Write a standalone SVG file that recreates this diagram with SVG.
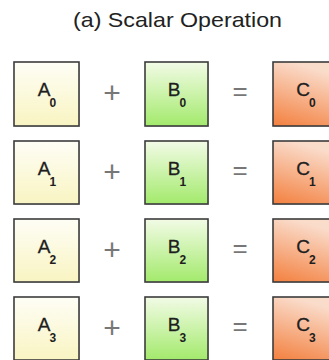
<svg xmlns="http://www.w3.org/2000/svg" width="329" height="360" viewBox="0 0 329 360">
<defs>
<linearGradient id="gA" x1="0" y1="0" x2="0" y2="1"><stop offset="0" stop-color="#fefef6"/><stop offset="1" stop-color="#f9f4c2"/></linearGradient>
<linearGradient id="gB" x1="0" y1="0" x2="0" y2="1"><stop offset="0" stop-color="#f2fbe6"/><stop offset="1" stop-color="#a3ea6c"/></linearGradient>
<linearGradient id="gC" x1="0.3" y1="0" x2="0" y2="1"><stop offset="0" stop-color="#fadccb"/><stop offset="1" stop-color="#f3803f"/></linearGradient>
</defs>
<style>
.box{stroke:#3c3c3c;stroke-width:1.6}
.sh{fill:#bbb;opacity:0.6}
.lbl{font-family:"Liberation Sans",Arial,sans-serif;font-size:19px;fill:#1e1e1e;text-anchor:middle;stroke:#1e1e1e;stroke-width:0.3}
.sub{font-size:12px;font-weight:bold;stroke-width:0}
.op{font-family:"Liberation Sans",Arial,sans-serif;fill:#777;text-anchor:middle}
.title{font-family:"Liberation Sans",Arial,sans-serif;font-size:21px;fill:#222}
</style>
<text class="title" x="73" y="27" textLength="209" lengthAdjust="spacingAndGlyphs">(a) Scalar Operation</text>

<g id="A0"><rect class="sh" x="15" y="63" width="65" height="64"/><rect class="box" x="14" y="62" width="65" height="64" fill="url(#gA)"/><text class="lbl" x="47" y="96">A<tspan class="sub" dx="-1" dy="11">0</tspan></text></g>
<g id="B0"><rect class="sh" x="146" y="63" width="63" height="64"/><rect class="box" x="145" y="62" width="63" height="64" fill="url(#gB)"/><text class="lbl" x="177" y="96">B<tspan class="sub" dx="-1" dy="11">0</tspan></text></g>
<g id="C0"><rect class="sh" x="274" y="63" width="65" height="64"/><rect class="box" x="273" y="62" width="65" height="64" fill="url(#gC)"/><text class="lbl" x="306" y="96">C<tspan class="sub" dx="-1" dy="11">0</tspan></text></g>
<g id="op0"><text class="op" x="112" y="103" font-size="30">+</text><text class="op" x="240" y="100" font-size="26">=</text></g>

<g id="A1"><rect class="sh" x="15" y="142" width="65" height="63"/><rect class="box" x="14" y="141" width="65" height="63" fill="url(#gA)"/><text class="lbl" x="47" y="175">A<tspan class="sub" dx="-1" dy="11">1</tspan></text></g>
<g id="B1"><rect class="sh" x="146" y="142" width="63" height="63"/><rect class="box" x="145" y="141" width="63" height="63" fill="url(#gB)"/><text class="lbl" x="177" y="175">B<tspan class="sub" dx="-1" dy="11">1</tspan></text></g>
<g id="C1"><rect class="sh" x="274" y="142" width="65" height="63"/><rect class="box" x="273" y="141" width="65" height="63" fill="url(#gC)"/><text class="lbl" x="306" y="175">C<tspan class="sub" dx="-1" dy="11">1</tspan></text></g>
<g id="op1"><text class="op" x="112" y="182" font-size="30">+</text><text class="op" x="240" y="179" font-size="26">=</text></g>

<g id="A2"><rect class="sh" x="15" y="220" width="65" height="63"/><rect class="box" x="14" y="219" width="65" height="63" fill="url(#gA)"/><text class="lbl" x="47" y="253">A<tspan class="sub" dx="-1" dy="11">2</tspan></text></g>
<g id="B2"><rect class="sh" x="146" y="220" width="63" height="63"/><rect class="box" x="145" y="219" width="63" height="63" fill="url(#gB)"/><text class="lbl" x="177" y="253">B<tspan class="sub" dx="-1" dy="11">2</tspan></text></g>
<g id="C2"><rect class="sh" x="274" y="220" width="65" height="63"/><rect class="box" x="273" y="219" width="65" height="63" fill="url(#gC)"/><text class="lbl" x="306" y="253">C<tspan class="sub" dx="-1" dy="11">2</tspan></text></g>
<g id="op2"><text class="op" x="112" y="260" font-size="30">+</text><text class="op" x="240" y="257" font-size="26">=</text></g>

<g id="A3"><rect class="sh" x="15" y="298" width="65" height="63"/><rect class="box" x="14" y="297" width="65" height="63" fill="url(#gA)"/><text class="lbl" x="47" y="331">A<tspan class="sub" dx="-1" dy="11">3</tspan></text></g>
<g id="B3"><rect class="sh" x="146" y="298" width="63" height="63"/><rect class="box" x="145" y="297" width="63" height="63" fill="url(#gB)"/><text class="lbl" x="177" y="331">B<tspan class="sub" dx="-1" dy="11">3</tspan></text></g>
<g id="C3"><rect class="sh" x="274" y="298" width="65" height="63"/><rect class="box" x="273" y="297" width="65" height="63" fill="url(#gC)"/><text class="lbl" x="306" y="331">C<tspan class="sub" dx="-1" dy="11">3</tspan></text></g>
<g id="op3"><text class="op" x="112" y="338" font-size="30">+</text><text class="op" x="240" y="335" font-size="26">=</text></g>
</svg>
